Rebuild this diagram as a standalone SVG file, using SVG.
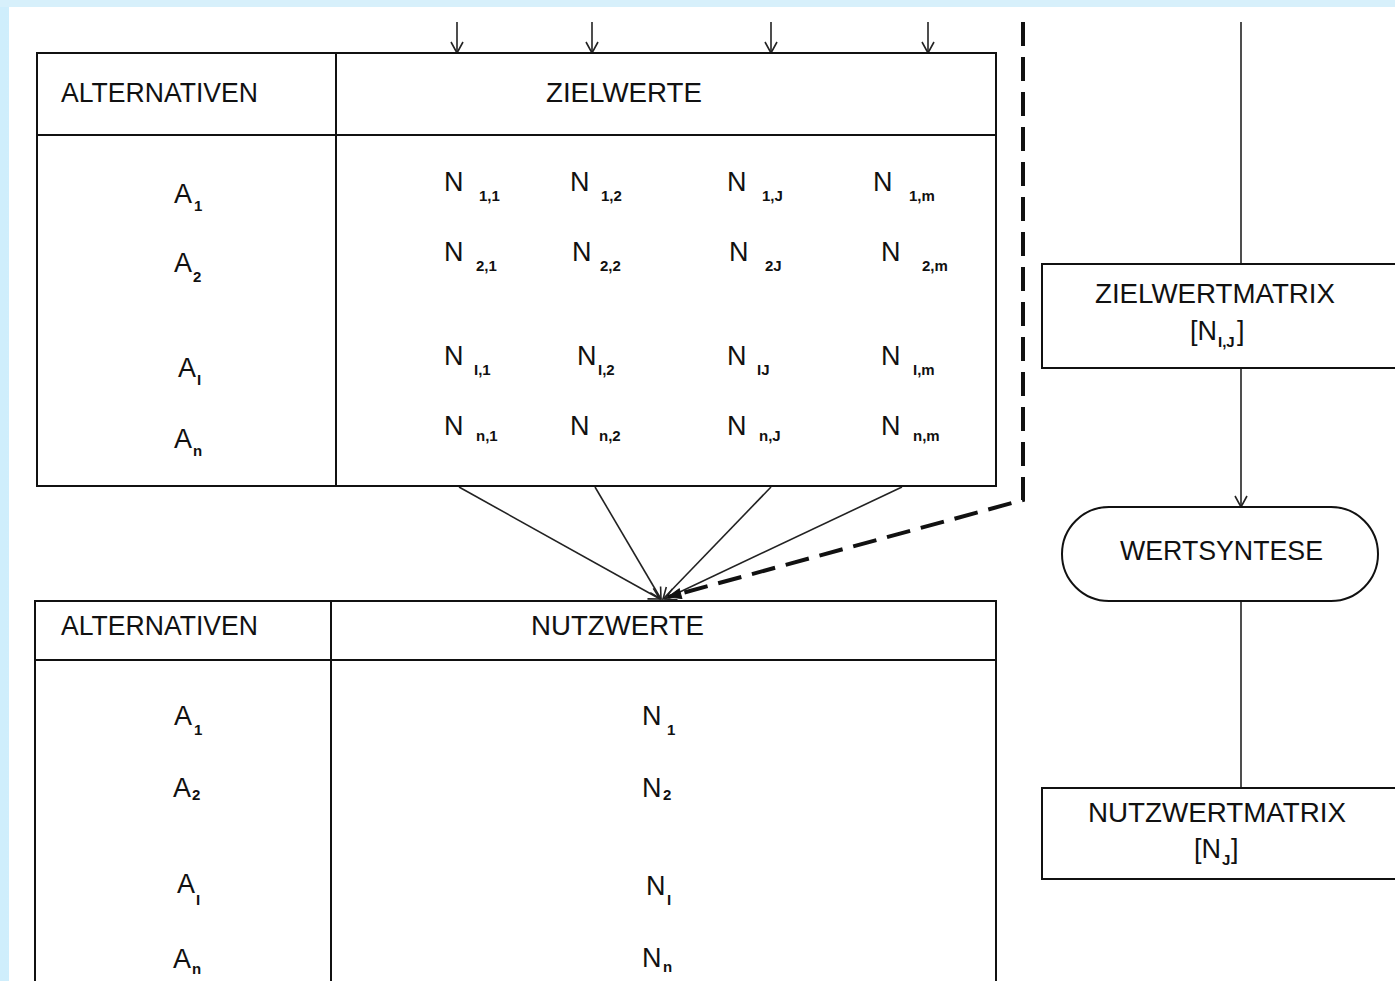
<svg xmlns="http://www.w3.org/2000/svg" width="1395" height="981" viewBox="0 0 1395 981">
  <style>
    .frame { fill: none; stroke: #111; stroke-width: 2; }
    .conn { fill: none; stroke: #222; stroke-width: 1.6; }
    .dash { fill: none; stroke: #111; stroke-width: 4; stroke-dasharray: 24 11; }
    text { font-family: "Liberation Sans", Arial, sans-serif; fill: #111; }
    .lbl { font-size: 27px; }
    .sym { font-size: 27px; }
    .sub { font-size: 15px; font-weight: bold; }
  </style>
  <defs>
    <linearGradient id="edge" x1="0" y1="0" x2="1" y2="0">
      <stop offset="0" stop-color="#cfeefc"/>
      <stop offset="1" stop-color="#e8f7fe"/>
    </linearGradient>
    <marker id="vee" viewBox="-1 -7 13 14" refX="11" refY="0" markerWidth="13" markerHeight="14" markerUnits="userSpaceOnUse" orient="auto">
      <path d="M0,-6 L11,0 L0,6" fill="none" stroke="#222" stroke-width="1.6"/>
    </marker>
    <marker id="veeBold" viewBox="-1 -7 15 14" refX="13" refY="0" markerWidth="15" markerHeight="14" markerUnits="userSpaceOnUse" orient="auto">
      <path d="M0,-5 L13,0 L0,5 Z" fill="#111" stroke="#111" stroke-width="1"/>
    </marker>
  </defs>

  <!-- page background -->
  <rect x="0" y="0" width="1395" height="981" fill="url(#edge)"/>
  <rect x="0" y="0" width="1395" height="7" fill="#d7f0fb"/>
  <rect x="9" y="7" width="1386" height="974" fill="#ffffff"/>

  <!-- connectors -->
  <g id="connectors">
    <line class="conn" x1="457" y1="22" x2="457" y2="53" marker-end="url(#vee)"/>
    <line class="conn" x1="592" y1="22" x2="592" y2="53" marker-end="url(#vee)"/>
    <line class="conn" x1="771" y1="22" x2="771" y2="53" marker-end="url(#vee)"/>
    <line class="conn" x1="928" y1="22" x2="928" y2="53" marker-end="url(#vee)"/>

    <line class="conn" x1="459" y1="487" x2="660" y2="599" marker-end="url(#vee)"/>
    <line class="conn" x1="595" y1="487" x2="661" y2="599" marker-end="url(#vee)"/>
    <line class="conn" x1="771" y1="487" x2="663" y2="599" marker-end="url(#vee)"/>
    <line class="conn" x1="902" y1="487" x2="665" y2="599" marker-end="url(#vee)"/>

    <path class="dash" d="M1023,22 L1023,500 L668,597" marker-end="url(#veeBold)"/>

    <line class="conn" x1="1241" y1="22" x2="1241" y2="264"/>
    <line class="conn" x1="1241" y1="368" x2="1241" y2="507" marker-end="url(#vee)"/>
    <line class="conn" x1="1241" y1="601" x2="1241" y2="788"/>
  </g>

  <!-- target-value table -->
  <g id="zielwerte-table">
    <rect class="frame" x="37" y="53" width="959" height="433"/>
    <line class="frame" x1="336" y1="53" x2="336" y2="486"/>
    <line class="frame" x1="37" y1="135" x2="996" y2="135"/>
    <text class="lbl" x="61" y="102" textLength="197" lengthAdjust="spacingAndGlyphs">ALTERNATIVEN</text>
    <text class="lbl" x="546" y="102" textLength="156" lengthAdjust="spacingAndGlyphs">ZIELWERTE</text>

    <text class="sym" x="174" y="203">A</text><text class="sub" x="194" y="211">1</text>
    <text class="sym" x="174" y="272">A</text><text class="sub" x="193" y="282">2</text>
    <text class="sym" x="178" y="377">A</text><text class="sub" x="197" y="385">I</text>
    <text class="sym" x="174" y="448">A</text><text class="sub" x="193" y="456">n</text>

    <text class="sym" x="444" y="191">N</text><text class="sub" x="479" y="201">1,1</text>
    <text class="sym" x="570" y="191">N</text><text class="sub" x="601" y="201">1,2</text>
    <text class="sym" x="727" y="191">N</text><text class="sub" x="762" y="201">1,J</text>
    <text class="sym" x="873" y="191">N</text><text class="sub" x="909" y="201">1,m</text>

    <text class="sym" x="444" y="261">N</text><text class="sub" x="476" y="271">2,1</text>
    <text class="sym" x="572" y="261">N</text><text class="sub" x="600" y="271">2,2</text>
    <text class="sym" x="729" y="261">N</text><text class="sub" x="765" y="271">2J</text>
    <text class="sym" x="881" y="261">N</text><text class="sub" x="922" y="271">2,m</text>

    <text class="sym" x="444" y="365">N</text><text class="sub" x="474" y="375">I,1</text>
    <text class="sym" x="577" y="365">N</text><text class="sub" x="598" y="375">I,2</text>
    <text class="sym" x="727" y="365">N</text><text class="sub" x="757" y="375">IJ</text>
    <text class="sym" x="881" y="365">N</text><text class="sub" x="913" y="375">I,m</text>

    <text class="sym" x="444" y="435">N</text><text class="sub" x="476" y="441">n,1</text>
    <text class="sym" x="570" y="435">N</text><text class="sub" x="599" y="441">n,2</text>
    <text class="sym" x="727" y="435">N</text><text class="sub" x="759" y="441">n,J</text>
    <text class="sym" x="881" y="435">N</text><text class="sub" x="913" y="441">n,m</text>
  </g>

  <!-- utility-value table -->
  <g id="nutzwerte-table">
    <rect class="frame" x="35" y="601" width="961" height="400"/>
    <line class="frame" x1="331" y1="601" x2="331" y2="981"/>
    <line class="frame" x1="35" y1="660" x2="996" y2="660"/>
    <text class="lbl" x="61" y="635" textLength="197" lengthAdjust="spacingAndGlyphs">ALTERNATIVEN</text>
    <text class="lbl" x="531" y="635" textLength="173" lengthAdjust="spacingAndGlyphs">NUTZWERTE</text>

    <text class="sym" x="174" y="725">A</text><text class="sub" x="194" y="735">1</text>
    <text class="sym" x="173" y="797">A</text><text class="sub" x="192" y="800">2</text>
    <text class="sym" x="177" y="893">A</text><text class="sub" x="196" y="905">I</text>
    <text class="sym" x="173" y="968">A</text><text class="sub" x="192" y="974">n</text>

    <text class="sym" x="642" y="725">N</text><text class="sub" x="667" y="735">1</text>
    <text class="sym" x="642" y="797">N</text><text class="sub" x="663" y="800">2</text>
    <text class="sym" x="646" y="895">N</text><text class="sub" x="667" y="905">I</text>
    <text class="sym" x="642" y="967">N</text><text class="sub" x="663" y="972">n</text>
  </g>

  <!-- target-value matrix box -->
  <g id="zielwertmatrix">
    <rect class="frame" x="1042" y="264" width="370" height="104"/>
    <text class="lbl" x="1095" y="303" textLength="240" lengthAdjust="spacingAndGlyphs">ZIELWERTMATRIX</text>
    <text class="lbl" x="1190" y="340">[N</text><text class="sub" x="1218" y="347">I,J</text><text class="lbl" x="1237" y="340">]</text>
  </g>

  <!-- value synthesis step -->
  <g id="wertsyntese">
    <rect class="frame" x="1062" y="507" width="316" height="94" rx="47" ry="47"/>
    <text class="lbl" x="1120" y="560" textLength="203" lengthAdjust="spacingAndGlyphs">WERTSYNTESE</text>
  </g>

  <!-- utility-value matrix box -->
  <g id="nutzwertmatrix">
    <rect class="frame" x="1042" y="788" width="370" height="91"/>
    <text class="lbl" x="1088" y="822" textLength="258" lengthAdjust="spacingAndGlyphs">NUTZWERTMATRIX</text>
    <text class="lbl" x="1194" y="858">[N</text><text class="sub" x="1222" y="865">J</text><text class="lbl" x="1231" y="858">]</text>
  </g>
</svg>
